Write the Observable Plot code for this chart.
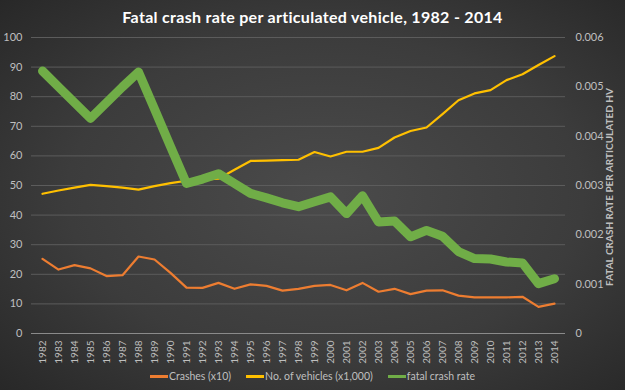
<!DOCTYPE html>
<html><head><meta charset="utf-8">
<script src="https://cdn.jsdelivr.net/npm/d3@7"></script>
<script src="https://cdn.jsdelivr.net/npm/@observablehq/plot@0.6"></script>
<style>
html,body{margin:0;padding:0;background:#2b2b2b;}
#chart{width:625px;height:390px;position:relative;overflow:hidden;
  background:radial-gradient(ellipse 75% 75% at 52% 50%, #4b4b4b 0%, #3c3c3c 55%, #262626 100%);
  font-family:Lato,"Open Sans",sans-serif;}
#title{height:30px;line-height:33px;text-align:center;color:#ffffff;font-weight:bold;font-size:16px;letter-spacing:0.3px;}
#plot svg{display:block;}
#legend{height:20px;display:flex;justify-content:center;align-items:center;gap:15px;color:#bfbfbf;font-size:10.5px;margin-top:-4px;}
#legend span.item{display:flex;align-items:center;}
#legend i{display:inline-block;width:18px;height:3px;margin-right:1px;}
#rtitle{position:absolute;left:609px;top:187px;transform:translate(-50%,-50%) rotate(-90deg);white-space:nowrap;
  color:#bfbfbf;font-weight:bold;font-size:10px;}
</style></head>
<body>
<div id="chart">
  <div id="title">Fatal crash rate per articulated vehicle, 1982 - 2014</div>
  <div id="plot"></div>
  <div id="legend"></div>
  <div id="rtitle"></div>
</div>
<script>
const years = [1982,1983,1984,1985,1986,1987,1988,1989,1990,1991,1992,1993,1994,1995,1996,1997,1998,1999,2000,2001,2002,2003,2004,2005,2006,2007,2008,2009,2010,2011,2012,2013,2014];
const crashes = [25.2,21.6,23.1,22.0,19.4,19.7,26.0,25.0,20.5,15.5,15.4,17.1,15.1,16.6,16.1,14.5,15.1,16.1,16.4,14.6,17.1,14.1,15.1,13.3,14.5,14.6,12.8,12.2,12.2,12.2,12.4,9.0,10.1];
const vehicles = [47.2,48.3,49.3,50.2,49.8,49.3,48.6,49.8,50.8,51.6,52.0,52.3,55.3,58.3,58.4,58.6,58.7,61.3,59.8,61.4,61.4,62.7,66.2,68.4,69.6,74.1,78.8,81.1,82.2,85.6,87.6,90.7,93.7];
const rate = [0.00532,0.00500,0.00468,0.00436,0.00468,0.00500,0.00530,0.00455,0.00379,0.00304,0.00313,0.00324,0.00304,0.00284,0.00275,0.00265,0.00257,0.00267,0.00277,0.00243,0.00279,0.00226,0.00228,0.00196,0.00209,0.00197,0.00166,0.00152,0.00151,0.00145,0.00143,0.00101,0.00111];
const leftTicks = [0,10,20,30,40,50,60,70,80,90,100];
const rightTicks = [0,0.001,0.002,0.003,0.004,0.005,0.006];
const rightLabels = ["0","0.001","0.002","0.003","0.004","0.005","0.006"];
const seriesNames = ["Crashes (x10)","No. of vehicles (x1,000)","fatal crash rate"];
const seriesColors = ["#ED7D31","#FFC000","#70AD47"];
const rightTitle = "FATAL CRASH RATE PER ARTICULATED HV";

const k = 100 / 0.006; // right axis maps onto left scale
const rows = years.map((y, i) => ({year: String(y), crashes: crashes[i], vehicles: vehicles[i], rate: rate[i] * k}));

const chart = Plot.plot({
  width: 625, height: 340,
  marginLeft: 31, marginRight: 60, marginTop: 7, marginBottom: 37,
  style: {background: "transparent", color: "#bfbfbf", fontFamily: "Lato, 'Open Sans', sans-serif", fontSize: "11px"},
  x: {type: "point", domain: years.map(String), padding: 0.5},
  y: {domain: [0, 100]},
  marks: [
    Plot.gridY(leftTicks.slice(1), {stroke: "#5c5c5c", strokeOpacity: 1}),
    Plot.ruleY([0], {stroke: "#8a8a8a"}),
    Plot.axisY(leftTicks, {anchor: "left", tickSize: 0, tickPadding: 9, label: null}),
    Plot.axisY(rightTicks.map(v => v * k), {anchor: "right", tickSize: 0, tickPadding: 10, label: null,
      tickFormat: d => rightLabels[Math.round(d / k / 0.001)]}),
    Plot.axisX({tickRotate: -90, tickSize: 0, tickPadding: 7, label: null, fontSize: 10}),
    Plot.lineY(rows, {x: "year", y: "crashes", stroke: seriesColors[0], strokeWidth: 2.2, strokeLinejoin: "round"}),
    Plot.lineY(rows, {x: "year", y: "vehicles", stroke: seriesColors[1], strokeWidth: 2.2, strokeLinejoin: "round"}),
    Plot.lineY(rows, {x: "year", y: "rate", stroke: seriesColors[2], strokeWidth: 9, strokeLinejoin: "round", strokeLinecap: "round"})
  ]
});
document.getElementById("plot").appendChild(chart);
document.getElementById("rtitle").textContent = rightTitle;

const legend = document.getElementById("legend");
seriesNames.forEach((n, i) => {
  const s = document.createElement("span");
  s.className = "item";
  s.innerHTML = `<i style="background:${seriesColors[i]}"></i>${n}`;
  legend.appendChild(s);
});
</script>
</body></html>
